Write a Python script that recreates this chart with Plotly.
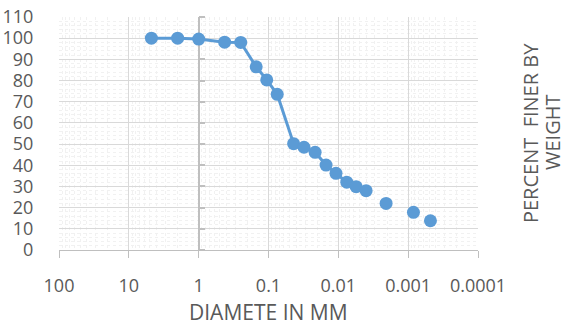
import plotly.graph_objects as go

# Data
diameter_mm = [4.75, 2.0, 1.0, 0.425, 0.25, 0.15, 0.106, 0.075, 0.0437, 0.031,
               0.0215, 0.015, 0.0108, 0.00757, 0.00556, 0.0040,
               0.00207, 0.00084, 0.00048]
percent_finer = [100, 100, 99.6, 98.1, 98.0, 86.5, 80.3, 73.5, 50.2, 48.5,
                 46.1, 40.1, 36.2, 32.0, 29.9, 28.0,
                 22.0, 17.8, 13.8]
n_connected = 16  # points joined by the line; the rest are markers only

x_tickvals = [100, 10, 1, 0.1, 0.01, 0.001, 0.0001]
x_ticktext = ["100", "10", "1", "0.1", "0.01", "0.001", "0.0001"]
x_minorvals = [m * 10.0 ** k for k in range(-4, 2) for m in range(2, 10)]

BLUE = "#5b9bd5"
TXT = "#595959"
FONT = "Open Sans"

fig = go.Figure()
# connected part sits on the overlaid (identical-range) axis that draws the
# vertical axis line crossing at x = 1, so its markers cover that line
fig.add_trace(go.Scatter(
    x=diameter_mm[:n_connected], y=percent_finer[:n_connected],
    mode="lines+markers", yaxis="y2",
    line=dict(color=BLUE, width=3),
    marker=dict(color=BLUE, size=13),
    showlegend=False, hoverinfo="x+y"))
fig.add_trace(go.Scatter(
    x=diameter_mm[n_connected:], y=percent_finer[n_connected:],
    mode="markers", yaxis="y",
    marker=dict(color=BLUE, size=13),
    showlegend=False, hoverinfo="x+y"))

fig.update_layout(
    width=566, height=325,
    margin=dict(l=59, r=88, t=17, b=75, autoexpand=False),
    paper_bgcolor="white", plot_bgcolor="white",
    font=dict(family=FONT, color=TXT, size=18),
    xaxis=dict(
        type="log", range=[2, -4], automargin=False,
        tickmode="array", tickvals=x_tickvals, ticktext=x_ticktext,
        showgrid=True, gridcolor="#d9d9d9", gridwidth=1,
        minor=dict(tickvals=x_minorvals, showgrid=True,
                   gridcolor="#f1f1f1", griddash="dot", ticks=""),
        showline=True, linecolor="#bfbfbf", linewidth=1,
        ticks="outside", ticklen=7, tickcolor="#bfbfbf",
        ticklabelstandoff=12,
        tickfont=dict(size=18, color=TXT, family=FONT),
        zeroline=False,
    ),
    yaxis=dict(
        range=[0, 110], dtick=10, tick0=0, automargin=False,
        showgrid=True, gridcolor="#d9d9d9", gridwidth=1,
        minor=dict(dtick=2, showgrid=True, gridcolor="#f1f1f1",
                   griddash="dot", ticks=""),
        showline=False, zeroline=False,
        ticks="outside", ticklen=1, tickcolor="rgba(0,0,0,0)",
        ticklabelstandoff=20,
        tickfont=dict(size=18, color=TXT, family=FONT),
    ),
    yaxis2=dict(
        overlaying="y", anchor="free", position=1/3, side="right",
        range=[0, 110], dtick=10, tick0=0, automargin=False,
        showgrid=False, zeroline=False, layer="below traces",
        showline=True, linecolor="#bfbfbf", linewidth=1.5,
        ticks="outside", ticklen=6, tickwidth=1.5, tickcolor="#bfbfbf",
        showticklabels=False,
    ),
    annotations=[
        dict(text="DIAMETE IN MM", xref="paper", yref="paper",
             x=0.5, y=0, xanchor="center", yanchor="middle", yshift=-62,
             showarrow=False, font=dict(size=21, color=TXT, family=FONT)),
        dict(text="PERCENT  FINER BY", xref="paper", yref="paper",
             x=(530 - 59) / 419, y=0.502, xanchor="center", yanchor="middle",
             textangle=-90, showarrow=False,
             font=dict(size=20, color=TXT, family=FONT)),
        dict(text="WEIGHT", xref="paper", yref="paper",
             x=(552 - 59) / 419, y=0.502, xanchor="center", yanchor="middle",
             textangle=-90, showarrow=False,
             font=dict(size=20, color=TXT, family=FONT)),
    ],
)

fig.write_html("out.html")
